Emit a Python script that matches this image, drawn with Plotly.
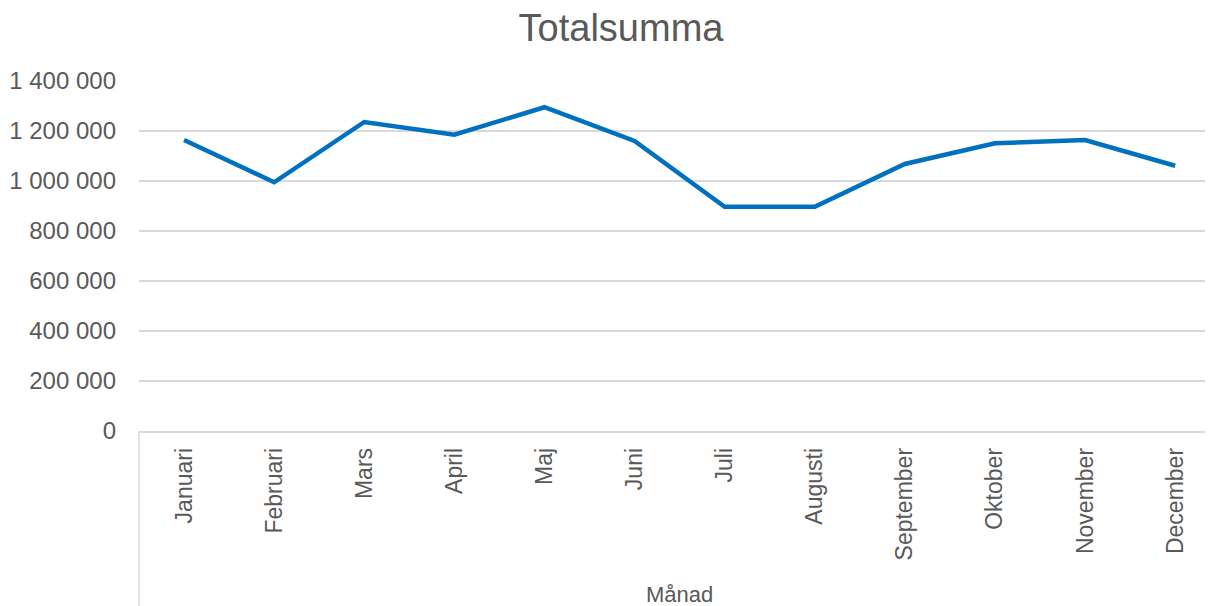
import plotly.graph_objects as go

months = ["Januari", "Februari", "Mars", "April", "Maj", "Juni", "Juli",
          "Augusti", "September", "Oktober", "November", "December"]
totals = [1164000, 995000, 1236000, 1185000, 1295000, 1160000, 897000,
          897000, 1068000, 1151000, 1164000, 1061000]
y_ticks = [0, 200000, 400000, 600000, 800000, 1000000, 1200000, 1400000]
y_labels = ["0", "200 000", "400 000", "600 000", "800 000",
            "1 000 000", "1 200 000", "1 400 000"]

# page body has an 8px margin, so compensate
OFF = 8
W, H = 1213 - OFF, 606 - OFF
L, R, T = 139 - OFF, 0, 81 - OFF
B = H - (431 - OFF)
step = 90.1
n = len(months)
plot_w = W - L - R
plot_h = H - T - B
x_max = -0.5 + plot_w / step

gray = "#595959"
grid = "#d9d9d9"
font = "Liberation Sans, Arial, sans-serif"

fig = go.Figure()
fig.add_trace(go.Scatter(
    x=list(range(n)), y=totals, mode="lines",
    line=dict(color="#0070C0", width=4.5),
    hoverinfo="skip", showlegend=False,
))

fig.update_layout(
    width=W, height=H,
    margin=dict(l=L, r=R, t=T, b=B, autoexpand=False),
    paper_bgcolor="white", plot_bgcolor="white",
    font=dict(family=font, color=gray, size=22),
    title=dict(text="Totalsumma", x=(621 - OFF) / W, xref="container", xanchor="center",
               y=1 - (28 - OFF) / H, yref="container", yanchor="middle",
               font=dict(size=38, color=gray, family=font)),
    xaxis=dict(
        tickmode="array", tickvals=list(range(n)), ticktext=months,
        tickangle=-90, range=[-0.5, x_max], showgrid=False,
        showline=True, linecolor=grid, linewidth=1.5,
        ticks="", ticklabelstandoff=6, zeroline=False,
        tickfont=dict(size=23, color=gray, family=font),
    ),
    yaxis=dict(
        tickmode="array", tickvals=y_ticks, ticktext=y_labels,
        range=[0, 1400000], showgrid=True, gridcolor=grid, gridwidth=1.5,
        zeroline=False, showline=False, ticks="", ticklabelstandoff=22,
        tickfont=dict(size=24, color=gray, family=font),
    ),
    shapes=[dict(type="line", xref="paper", yref="paper",
                 x0=0, x1=0, y0=0, y1=-B / plot_h,
                 line=dict(color=grid, width=1.5))],
    annotations=[dict(text="Månad", xref="x", x=(n - 1) / 2, yref="paper",
                      y=-(594 - 431) / plot_h, yanchor="middle",
                      showarrow=False,
                      font=dict(size=22, color=gray, family=font))],
)

fig.write_html("out.html")
